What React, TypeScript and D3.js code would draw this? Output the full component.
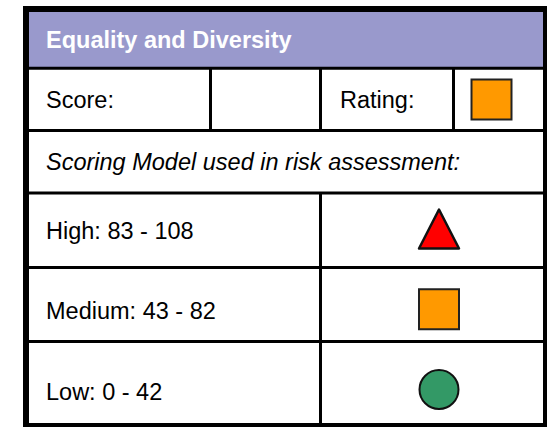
import React, { useEffect, useRef } from 'react';
import * as d3 from 'd3';

const title = 'Equality and Diversity';
const scoreLabels = ['Score:', '', 'Rating:'];
const currentRating = 'Medium';
const modelCaption = 'Scoring Model used in risk assessment:';
const bandNames = ['High', 'Medium', 'Low'];
const bandMin = [83, 43, 0];
const bandMax = [108, 82, 42];
const bandShapes = ['triangle', 'square', 'circle'];
const bandColors = ['#ff0000', '#ff9900', '#339966'];

const W = 547;
const H = 427;
const FONT = 'Liberation Sans, Arial, sans-serif';
const FS = 23.5;

const App: React.FC = () => {
  const ref = useRef<SVGSVGElement | null>(null);

  useEffect(() => {
    const svg = d3.select(ref.current);
    svg.selectAll('*').remove();

    const left = 29;
    const right = 543;
    const top = 12;
    const bottom = 423;

    const headerBottom = 67;
    const rowLines = [68.2, 130.5, 193, 267.4, 341.6];

    // y centres of the scoring bands
    const bandY = d3.scalePoint<string>()
      .domain(bandNames)
      .range([229, 389.5]);
    const shapeX = 439;

    svg.append('rect')
      .attr('x', left).attr('y', top)
      .attr('width', right - left).attr('height', bottom - top)
      .attr('fill', '#ffffff');

    svg.append('rect')
      .attr('x', left).attr('y', top)
      .attr('width', right - left).attr('height', headerBottom - top)
      .attr('fill', '#9999cc');

    svg.append('text')
      .attr('x', 46).attr('y', 40)
      .attr('dominant-baseline', 'central')
      .attr('font-family', FONT)
      .attr('font-weight', 'bold')
      .attr('font-size', FS)
      .attr('fill', '#ffffff')
      .text(title);

    // horizontal rules
    svg.selectAll('line.h')
      .data(rowLines)
      .enter()
      .append('line')
      .attr('x1', left).attr('x2', right)
      .attr('y1', (d) => d).attr('y2', (d) => d)
      .attr('stroke', '#000').attr('stroke-width', 3);

    // score row dividers
    [210.5, 320.5, 453.5].forEach((x) => {
      svg.append('line')
        .attr('x1', x).attr('x2', x)
        .attr('y1', rowLines[0]).attr('y2', rowLines[1])
        .attr('stroke', '#000').attr('stroke-width', 3);
    });
    svg.append('line')
      .attr('x1', 320.5).attr('x2', 320.5)
      .attr('y1', rowLines[2]).attr('y2', bottom)
      .attr('stroke', '#000').attr('stroke-width', 3);

    const scoreX = [46, 225, 340];
    scoreLabels.forEach((t, i) => {
      svg.append('text')
        .attr('x', scoreX[i]).attr('y', 100)
        .attr('dominant-baseline', 'central')
        .attr('font-family', FONT)
        .attr('font-size', FS)
        .attr('fill', '#000')
        .text(t);
    });

    svg.append('text')
      .attr('x', 46).attr('y', 162)
      .attr('dominant-baseline', 'central')
      .attr('font-family', FONT)
      .attr('font-style', 'italic')
      .attr('font-size', FS)
      .attr('fill', '#000')
      .text(modelCaption);

    const drawShape = (g: d3.Selection<SVGGElement, unknown, null, undefined>, kind: string, color: string) => {
      const half = 20;
      if (kind === 'circle') {
        g.append('circle').attr('r', 19.5)
          .attr('fill', color).attr('stroke', '#111').attr('stroke-width', 2);
      } else if (kind === 'square') {
        g.append('rect')
          .attr('x', -half).attr('y', -half)
          .attr('width', half * 2).attr('height', half * 2)
          .attr('fill', color).attr('stroke', '#222').attr('stroke-width', 2);
      } else {
        const pts: [number, number][] = [[0, -19.5], [half, 19.5], [-half, 19.5]];
        g.append('path')
          .attr('d', d3.line()(pts) + 'Z')
          .attr('fill', color).attr('stroke', '#111').attr('stroke-width', 2.5)
          .attr('stroke-linejoin', 'round');
      }
    };

    bandNames.forEach((name, i) => {
      const y = bandY(name)!;
      svg.append('text')
        .attr('x', 46).attr('y', y + 2)
        .attr('dominant-baseline', 'central')
        .attr('font-family', FONT)
        .attr('font-size', FS)
        .attr('fill', '#000')
        .text(`${name}: ${bandMin[i]} - ${bandMax[i]}`);
      const g = svg.append('g').attr('transform', `translate(${shapeX},${y})`);
      drawShape(g, bandShapes[i], bandColors[i]);
    });

    // current rating swatch
    const ri = bandNames.indexOf(currentRating);
    const rg = svg.append('g').attr('transform', 'translate(491.5,99.5)');
    drawShape(rg, bandShapes[ri], bandColors[ri]);

    // outer frame
    svg.append('rect')
      .attr('x', 26).attr('y', 9)
      .attr('width', 520).attr('height', 417)
      .attr('fill', 'none')
      .attr('stroke', '#000').attr('stroke-width', 6);
  }, []);

  return (
    <svg
      ref={ref}
      width={W}
      height={H}
      style={{ position: 'absolute', left: 0, top: 0, background: '#fff' }}
    />
  );
};

export default App;
